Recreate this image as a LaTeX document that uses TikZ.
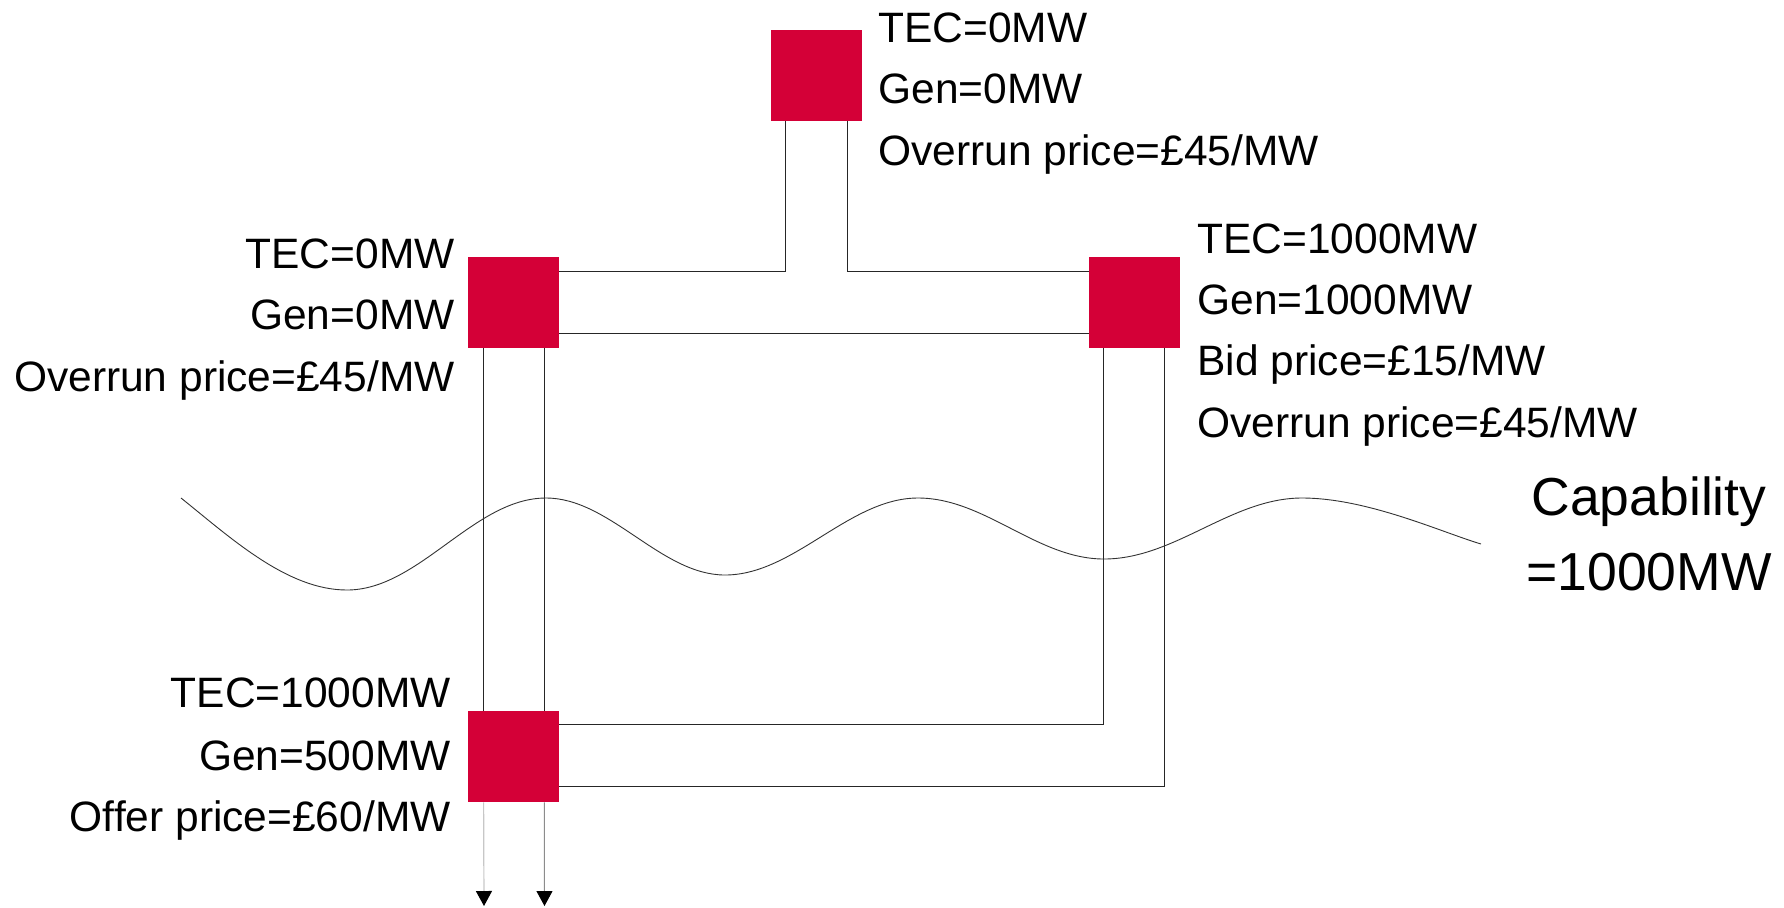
\documentclass[tikz,border=0pt]{standalone}
\usepackage{fontspec}
\setmainfont{Liberation Sans}
\usetikzlibrary{arrows.meta}
\definecolor{boxred}{RGB}{212,0,55}
\begin{document}
\begin{tikzpicture}[x=0.5pt,y=-0.5pt,
  gen/.style={rectangle,fill=boxred,draw=none,minimum width=45.5pt,minimum height=45.5pt,inner sep=0pt},
  lbl/.style={inner sep=0pt,font=\fontsize{21.25}{25}\selectfont},
  lblL/.style={lbl,anchor=base west},
  lblR/.style={lbl,anchor=base east},
  capl/.style={inner sep=0pt,font=\fontsize{26.75}{30}\selectfont,anchor=base},
  wire/.style={draw=black!85,line width=0.55pt},
  tailA/.style={draw=black!22,line width=0.6pt,-{Triangle[width=8pt,length=7.5pt,color=black]}},
  tailB/.style={draw=black!45,line width=0.5pt,-{Triangle[width=8pt,length=7.5pt,color=black]}},
  wave/.style={draw=black!80,line width=0.45pt}
]
\useasboundingbox (0,0) rectangle (1784,907);

% generator boxes
\node[gen] (top) at (816.5,75.5) {};
\node[gen] (left) at (513.5,302.5) {};
\node[gen] (right) at (1134.5,302.5) {};
\node[gen] (bot) at (513.5,756.5) {};

% connectors
\draw[wire] ([xshift=7.5pt]top.south west) |- ([yshift=-7.5pt]left.north east);
\draw[wire] ([xshift=-7.5pt]top.south east) |- ([yshift=-7.5pt]right.north west);
\draw[wire] ([yshift=7.5pt]left.south east) -- ([yshift=7.5pt]right.south west);
\draw[wire] ([xshift=8pt]left.south west) -- ([xshift=8pt]bot.north west);
\draw[wire] ([xshift=-7.5pt]left.south east) -- ([xshift=-7.5pt]bot.north east);
\draw[wire] ([xshift=7.5pt]right.south west) |- ([yshift=-7pt]bot.north east);
\draw[wire] ([xshift=-8pt]right.south east) |- ([yshift=8pt]bot.south east);

\coordinate (e1) at (484,906);
\coordinate (e2) at (544.5,906);
\draw[tailA] ([xshift=8pt]bot.south west) -- (e1);
\draw[tailB] ([xshift=-7.5pt]bot.south east) -- (e2);

% capability wave
\draw[wave] (181,498) .. controls (231,538) and (287,590) .. (347,590)
  .. controls (419,590) and (474,498) .. (546,498)
  .. controls (610,498) and (661,575) .. (725,575)
  .. controls (794,575) and (849,498) .. (918,498)
  .. controls (985,498) and (1037,559) .. (1104,559)
  .. controls (1175,559) and (1231,498) .. (1302,498)
  .. controls (1367,498) and (1441,532) .. (1481,544);

% labels: top
\node[lblL] (t1) at (878,42) {TEC=0MW};
\node[lblL] (t2) at (878,103) {Gen=0MW};
\node[lblL] (t3) at (878,165) {Overrun price=£45/MW};
% labels: left
\node[lblR] (l1) at (455,268) {TEC=0MW};
\node[lblR] (l2) at (455,329) {Gen=0MW};
\node[lblR] (l3) at (455,391) {Overrun price=£45/MW};
% labels: right
\node[lblL] (r1) at (1197,253) {TEC=1000MW};
\node[lblL] (r2) at (1197,314) {Gen=1000MW};
\node[lblL] (r3) at (1197,375) {Bid price=£15/MW};
\node[lblL] (r4) at (1197,437) {Overrun price=£45/MW};
% labels: bottom
\node[lblR] (b1) at (451,707) {TEC=1000MW};
\node[lblR] (b2) at (451,770) {Gen=500MW};
\node[lblR] (b3) at (451,831) {Offer price=£60/MW};
% capability
\node[capl] (c1) at (1649,515) {Capability};
\node[capl] (c2) at (1649,590) {=1000MW};
\end{tikzpicture}
\end{document}
